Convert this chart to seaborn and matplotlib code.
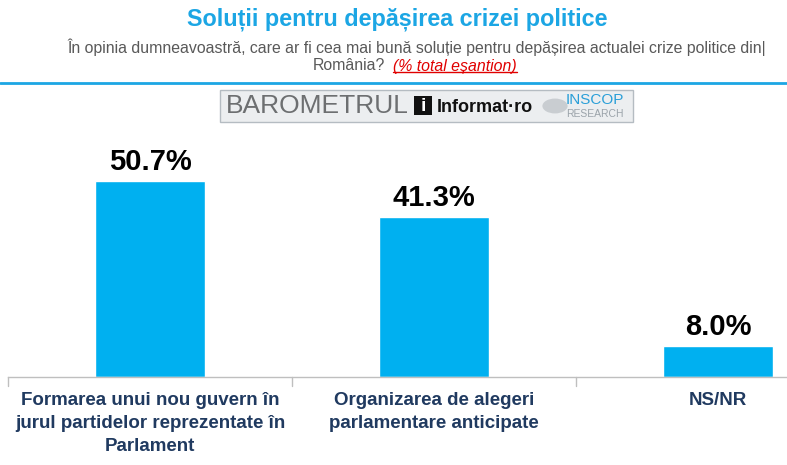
import pandas as pd
import seaborn as sns
import matplotlib.pyplot as plt
from matplotlib.patches import Rectangle

# ------------------- Data -------------------
categories = ['Formarea unui nou guvern în\njurul partidelor reprezentate în\nParlament',
              'Organizarea de alegeri\nparlamentare anticipate',
              'NS/NR']
values = [50.7, 41.3, 8.0]
value_labels = ['50.7%', '41.3%', '8.0%']

df = pd.DataFrame({'Categorie': categories, 'Procent': values})

# ------------------- Style -------------------
sns.set_style('white')
plt.rcParams['font.family'] = ['Liberation Sans', 'DejaVu Sans']

W, H = 787, 465
fig = plt.figure(figsize=(W / 100, H / 100), dpi=100)

# axes: x from 8px to 787px, y from 130px to 377px
ax = fig.add_axes([8 / W, 1 - 377 / H, (787 - 8) / W, (377 - 130) / H])

sns.barplot(data=df, x='Categorie', y='Procent', color='#00B0F0',
            width=0.387, saturation=1, ax=ax)

ax.set_xlim(-0.5, 2.243)
ax.set_ylim(0, 63.9)

for i, (v, lab) in enumerate(zip(values, value_labels)):
    ax.text(i, v + 1.4, lab, ha='center', va='bottom', fontsize=21,
            fontweight='bold', color='black')

for s in ['top', 'right', 'left']:
    ax.spines[s].set_visible(False)
ax.spines['bottom'].set_color('#BFBFBF')
ax.spines['bottom'].set_linewidth(1)
ax.set_yticks([])
ax.set_xlabel('')
ax.set_ylabel('')

ax.set_xticks([0, 1, 2])
ax.set_xticklabels(categories, fontsize=13.5, fontweight='bold', color='#203A60',
                   linespacing=1.45)
ax.tick_params(axis='x', length=0, pad=11)
# tick marks between categories
for xb in [-0.5, 0.5, 1.5]:
    ax.plot([xb, xb], [0, -2.2], color='#BFBFBF', lw=1, clip_on=False)

# ------------------- Header -------------------
fig.text(397 / W, 1 - 19 / H, 'Soluții pentru depășirea crizei politice', ha='center', va='center',
         fontsize=16.8, fontweight='bold', color='#1CA6E4')
fig.text(417 / W, 1 - 47 / H,
         'În opinia dumneavoastră, care ar fi cea mai bună soluție pentru depășirea actualei crize politice din|',
         ha='center', va='center', fontsize=11.4, color='#595959')
fig.text(385 / W, 1 - 66 / H, 'România?', ha='right', va='center',
         fontsize=11.4, color='#595959')
red = fig.text(393 / W, 1 - 66 / H, '(% total eșantion)', ha='left', va='center',
               fontsize=11.4, color='#E00000', style='italic')
fig.canvas.draw()
bb = red.get_window_extent()
fig.add_artist(plt.Line2D([bb.x0 / W, bb.x1 / W], [(bb.y0 + 1) / H, (bb.y0 + 1) / H],
                          color='#E00000', lw=1))

fig.add_artist(plt.Line2D([0, 1], [1 - 83 / H, 1 - 83 / H], color='#1CA6E4', lw=2))

# ------------------- Logo banner -------------------
fig.add_artist(Rectangle((220 / W, 1 - 122 / H), 413 / W, 32 / H, transform=fig.transFigure,
                         facecolor='#ECEEF0', edgecolor='#B5BCC2', lw=1))
fig.text(226 / W, 1 - 106 / H, 'BAROMETRUL', ha='left', va='center', fontsize=19,
         color='#6D6F71', fontweight='light')
fig.add_artist(Rectangle((414 / W, 1 - 115 / H), 18 / W, 19 / H, transform=fig.transFigure,
                         facecolor='#111111', edgecolor='none'))
fig.text(423 / W, 1 - 106 / H, 'i', ha='center', va='center', fontsize=14,
         color='white', fontweight='bold')
fig.text(437 / W, 1 - 107 / H, 'Informat·ro', ha='left', va='center', fontsize=13,
         color='#111111', fontweight='bold')
fig.add_artist(plt.Circle((555 / W, 1 - 106 / H), 0.016, transform=fig.transFigure,
                          facecolor='#C9CDD1', edgecolor='none'))
fig.text(566 / W, 1 - 100 / H, 'INSCOP', ha='left', va='center', fontsize=11,
         color='#2A9FD8')
fig.text(566 / W, 1 - 114 / H, 'RESEARCH', ha='left', va='center', fontsize=7.5,
         color='#9BA3AA')

fig.savefig('out.png', dpi=100)
